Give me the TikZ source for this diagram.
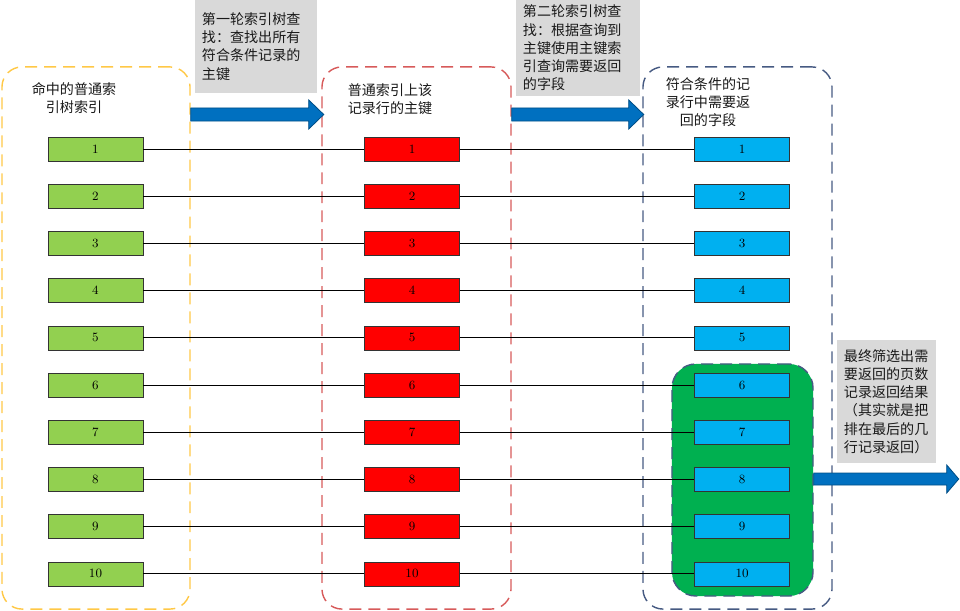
\documentclass[tikz,border=0pt]{standalone}
\usepackage{fontspec}
\usepackage{xcolor}
\usepackage{tikz}
\usetikzlibrary{arrows.meta,positioning,calc}
\newfontfamily\cjk{Noto Sans CJK SC}

\definecolor{ylwline}{RGB}{255,200,70}
\definecolor{redline}{RGB}{215,90,90}
\definecolor{bluline}{RGB}{70,90,130}
\definecolor{grnbox}{RGB}{146,208,80}
\definecolor{redbox}{RGB}{255,0,0}
\definecolor{blubox}{RGB}{0,176,240}
\definecolor{grnpanel}{RGB}{0,176,80}
\definecolor{arrowblue}{RGB}{0,112,192}
\definecolor{notegray}{RGB}{217,217,217}

\begin{document}
\begin{tikzpicture}[
    x=0.025cm, y=-0.025cm,
    group/.style={draw=#1, dash pattern=on 8.5pt off 5pt, line width=1pt,
                  rounded corners=0.5cm, inner sep=0pt},
    rec/.style={draw=black!80, fill=#1, minimum width=2.375cm, minimum height=0.6cm,
                inner sep=0pt, font=\fontsize{9}{10}\selectfont},
    head/.style={font=\cjk\fontsize{10}{12.8}\selectfont, align=center, text=black!90},
    note/.style={fill=notegray, font=\cjk\fontsize{10}{13}\selectfont, align=left,
                 text=black!90, inner xsep=0.175cm, inner ysep=0pt},
    fatarrow/.style={draw=arrowblue!70!black, fill=arrowblue, line width=0.6pt},
    link/.style={draw=black, line width=0.6pt},
]
\useasboundingbox (0,0) rectangle (960,611);

% Containers
\node[group=ylwline, minimum width=4.7cm, minimum height=13.55cm] (ylw) at (96,338) {};
\node[group=redline, minimum width=4.725cm, minimum height=13.55cm] (redgrp) at (416.5,338) {};
\node[group=bluline, minimum width=4.725cm, minimum height=13.55cm] (blugrp) at (737.5,338) {};
\node[group=bluline, fill=grnpanel, rounded corners=0.6cm,
      minimum width=3.525cm, minimum height=5.8cm] (result) at (742.5,480) {};

% Headings
\node[head] (ylwtxt) at (74,98) {命中的普通索\\引树索引};
\node[head] (redtxt) at (390,99) {普通索引上该\\记录行的主键};
\node[head] (blutxt) at (708,102) {符合条件的记\\录行中需要返\\回的字段};

% Rows
\foreach \i in {1,...,10} {
  \pgfmathsetmacro{\yy}{149+47.2*(\i-1)}
  \node[rec=grnbox] (g\i) at (95.5,\yy) {\i};
  \node[rec=redbox] (r\i) at (412,\yy) {\i};
  \node[rec=blubox] (b\i) at (742,\yy) {\i};
  \draw[link] (g\i) -- (r\i);
  \draw[link] (r\i) -- (b\i);
}

% Notes
\node[note, minimum width=3.05cm, minimum height=2.325cm, text width=2.7cm] (note1) at (256,46.5)
  {第一轮索引树查\\找：查找出所有\\符合条件记录的\\主键};
\node[note, minimum width=3.1cm, minimum height=2.4cm, text width=2.75cm] (note2) at (578,48)
  {第二轮索引树查\\找：根据查询到\\主键使用主键索\\引查询需要返回\\的字段};
\node[note, minimum width=2.475cm, minimum height=3.075cm, text width=2.125cm] (note3) at (886.5,401.5)
  {最终筛选出需\\要返回的页数\\记录返回结果\\（其实就是把\\排在最后的几\\行记录返回）};

% Arrows
\coordinate (a1) at (ylw.east |- 0,114.5);
\coordinate (a2) at (redgrp.east |- 0,114.5);
\coordinate (a3) at (result.east |- 0,479);
\draw[fatarrow] (a1) ++(0,-6.5) -- ++(118,0) -- ++(0,-8) -- ++(15,14.5)
  -- ++(-15,14.5) -- ++(0,-8) -- ++(-118,0) -- cycle;
\draw[fatarrow] (a2) ++(0,-6.5) -- ++(117,0) -- ++(0,-8) -- ++(15,14.5)
  -- ++(-15,14.5) -- ++(0,-8) -- ++(-117,0) -- cycle;
\draw[fatarrow] (a3) ++(0,-6) -- ++(133,0) -- ++(0,-8) -- ++(12,14)
  -- ++(-12,14) -- ++(0,-8) -- ++(-133,0) -- cycle;
\end{tikzpicture}
\end{document}
